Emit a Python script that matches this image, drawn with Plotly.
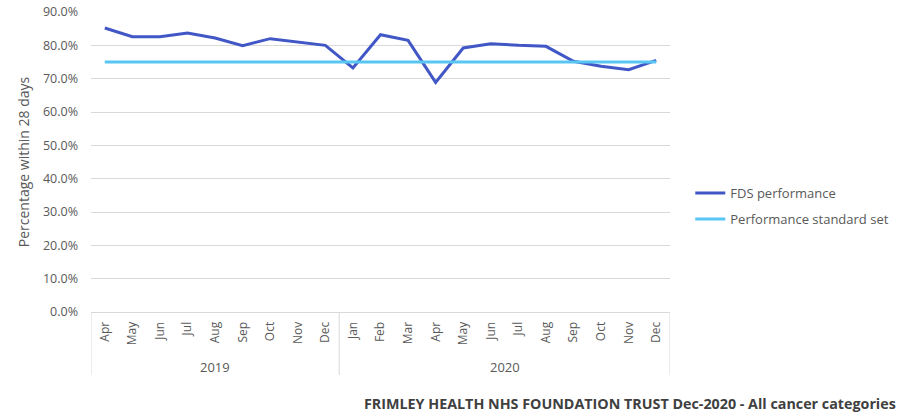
import plotly.graph_objects as go

months = ["Apr", "May", "Jun", "Jul", "Aug", "Sep", "Oct", "Nov", "Dec",
          "Jan", "Feb", "Mar", "Apr", "May", "Jun", "Jul", "Aug", "Sep", "Oct", "Nov", "Dec"]
years = ["2019"] * 9 + ["2020"] * 12
fds_performance = [0.852, 0.826, 0.826, 0.837, 0.822, 0.799, 0.820, 0.809, 0.800,
                   0.732, 0.832, 0.815, 0.689, 0.792, 0.805, 0.800, 0.797, 0.752, 0.737, 0.727, 0.755]
standard = [0.75] * 21
y_ticks = [0, 0.1, 0.2, 0.3, 0.4, 0.5, 0.6, 0.7, 0.8, 0.9]

grey = "#595959"
cats = [f"{m} {y}" for m, y in zip(months, years)]

fig = go.Figure()
fig.add_trace(go.Scatter(x=cats, y=fds_performance, mode="lines", legendgroup="a",
                         name="FDS performance", line=dict(color="#4257C6", width=3)))
fig.add_trace(go.Scatter(x=cats, y=standard, mode="lines", legendgroup="b",
                         name="Performance standard set", line=dict(color="#58C6F3", width=3)))

# year groups: dividers and labels positioned on the category scale
shapes = []
annotations = []
unique_years = []
for y in years:
    if y not in unique_years:
        unique_years.append(y)
start = 0
bounds = [-0.5]
for y in unique_years:
    n = years.count(y)
    end = start + n - 1
    bounds.append(end + 0.5)
    annotations.append(dict(text=y, x=(start + end) / 2, xref="x", y=-0.183, yref="paper",
                            showarrow=False, xanchor="center", yanchor="middle",
                            font=dict(size=13, color=grey)))
    start = end + 1
for b in bounds:
    shapes.append(dict(type="line", xref="x", yref="paper", x0=b, x1=b, y0=0, y1=-0.21,
                       line=dict(color="#d9d9d9", width=1)))

annotations.append(dict(text="<b>FRIMLEY HEALTH NHS FOUNDATION TRUST Dec-2020 - All cancer categories</b>",
                        xref="paper", yref="paper", x=1.0 + 228 / 579, y=-0.305,
                        xanchor="right", yanchor="middle", showarrow=False,
                        font=dict(size=14.3, color="#404040")))

fig.update_layout(
    width=913, height=414,
    margin=dict(l=91, r=243, t=12, b=102, autoexpand=False),
    paper_bgcolor="white", plot_bgcolor="white",
    font=dict(family="Open Sans", size=11, color=grey),
    showlegend=True,
    legend=dict(x=1.035, y=0.353, xanchor="left", yanchor="middle",
                font=dict(size=13, color=grey), bgcolor="rgba(0,0,0,0)",
                tracegroupgap=6),
    xaxis=dict(type="category", categoryorder="array", categoryarray=cats,
               tickvals=cats, ticktext=months, tickangle=-90, automargin=False,
               range=[-0.5, len(cats) - 0.5], showgrid=False,
               showline=True, linecolor="#d9d9d9", linewidth=1,
               tickfont=dict(size=12, color=grey), ticks="", ticklabelstandoff=4),
    yaxis=dict(range=[0, 0.9], tickvals=y_ticks, tickformat=".1%", automargin=False,
               showgrid=True, gridcolor="#d9d9d9", gridwidth=1, zeroline=False,
               showline=False, ticks="", ticklabelstandoff=12, ticklabeloverflow="allow",
               tickfont=dict(size=12.5, color=grey),
               title=dict(text="Percentage within 28 days", font=dict(size=14, color=grey), standoff=10)),
    shapes=shapes,
    annotations=annotations,
)
fig.write_html("out.html", config={"displayModeBar": False},
               post_script="document.body.style.margin='0';")
